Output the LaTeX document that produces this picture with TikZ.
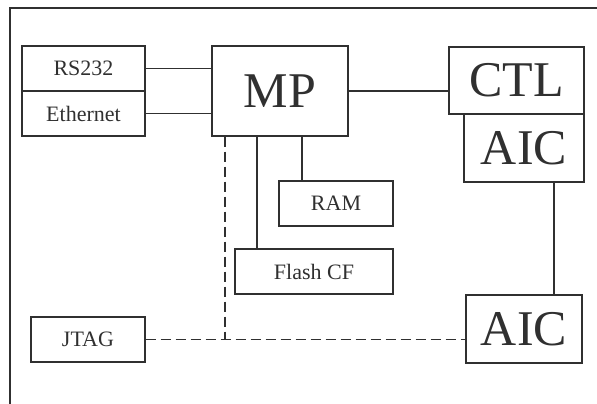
\documentclass[tikz,border=0pt]{standalone}
\usepackage{fontspec}
\setmainfont{Liberation Serif}
\definecolor{ink}{HTML}{303030}
\begin{document}
\begin{tikzpicture}[x=1pt,y=-1pt,line width=1.2pt,draw=ink,text=ink,
  box/.style={draw=ink,line width=1.2pt,inner sep=0pt,font=\fontsize{22}{26}\selectfont},
  bigbox/.style={draw=ink,line width=1.2pt,inner sep=0pt,font=\fontsize{50}{56}\selectfont},
  wire/.style={draw=ink,line width=1.2pt},
  dwire/.style={draw=ink,line width=1.2pt,dash pattern=on 10pt off 5pt}]
\useasboundingbox (0,0) rectangle (597,404);
\draw[wire] (10,404) -- (10,8) -- (597,8);
% boxes
\node[box,minimum width=123pt,minimum height=45pt] (rs) at (83.5,68.5) {RS232};
\node[box,minimum width=123pt,minimum height=45pt] (eth) at (83.5,113.5) {Ethernet};
\node[bigbox,minimum width=136pt,minimum height=90pt] (mp) at (280,91) {MP};
\node[bigbox,minimum width=135pt,minimum height=67pt] (ctl) at (516.5,80.5) {CTL};
\node[bigbox,minimum width=120pt,minimum height=68pt] (aica) at (524,148) {AIC};
\node[bigbox,minimum width=116pt,minimum height=68pt] (aicb) at (524,329) {AIC};
\node[box,minimum width=114pt,minimum height=45pt] (ram) at (336,203.5) {RAM};
\node[box,minimum width=158pt,minimum height=45pt] (flash) at (314,271.5) {Flash CF};
\node[box,minimum width=114pt,minimum height=45pt] (jtag) at (88,339.5) {JTAG};
% connectors
\draw[wire] (rs.east) -- (rs.east -| mp.west);
\draw[wire] (eth.east) -- (eth.east -| mp.west);
\draw[wire] (mp.east) -- (mp.east -| ctl.west);
\draw[wire] ([xshift=30pt]aica.south) -- ([xshift=30pt]aica.south |- aicb.north);
\draw[wire] ([xshift=-34pt]ram.north) -- ([xshift=-34pt]ram.north |- mp.south);
\draw[wire] ([xshift=-57pt]flash.north) -- ([xshift=-57pt]flash.north |- mp.south);
\coordinate (jmid) at ([xshift=-55pt]mp.south |- jtag.east);
\draw[dwire] (jtag.east) -- (jtag.east -| aicb.west);
\draw[dwire] ([xshift=-55pt]mp.south) -- (jmid);
\end{tikzpicture}
\end{document}
